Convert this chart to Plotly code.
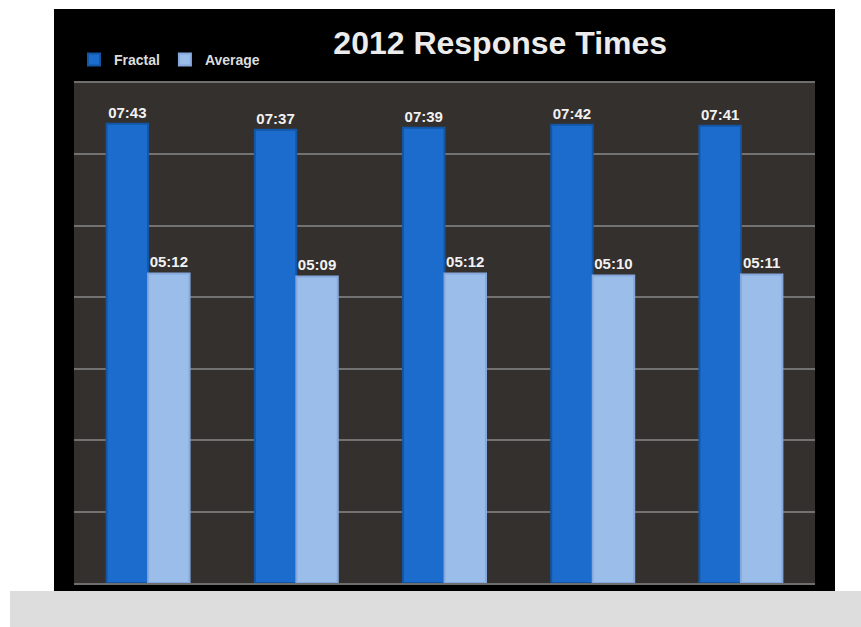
import plotly.graph_objects as go

categories = ["1", "2", "3", "4", "5"]
fractal_sec = [463, 457, 459, 462, 461]   # 07:43, 07:37, 07:39, 07:42, 07:41
average_sec = [312, 309, 312, 310, 311]   # 05:12, 05:09, 05:12, 05:10, 05:11
fractal_labels = ["07:43", "07:37", "07:39", "07:42", "07:41"]
average_labels = ["05:12", "05:09", "05:12", "05:10", "05:11"]
y_max = 504
y_step = 72

fig = go.Figure()
fig.add_trace(go.Bar(
    x=categories, y=fractal_sec, name="Fractal",
    text=fractal_labels, textposition="outside", cliponaxis=False,
    textfont=dict(color="#f2f2f2", size=15, family="Liberation Sans", weight="bold"),
    marker=dict(color="#1c6cce", line=dict(color="#1356a6", width=2)),
))
fig.add_trace(go.Bar(
    x=categories, y=average_sec, name="Average",
    text=average_labels, textposition="outside", cliponaxis=False,
    textfont=dict(color="#f2f2f2", size=15, family="Liberation Sans", weight="bold"),
    marker=dict(color="#9bbde9", line=dict(color="#86a8dc", width=2)),
))

fig.update_layout(
    width=861, height=627,
    margin=dict(l=74, r=46, t=83, b=44),
    paper_bgcolor="white",
    plot_bgcolor="#33302e",
    barmode="group", bargap=0.44, bargroupgap=0,
    showlegend=True,
    legend=dict(orientation="h", x=0.0, xanchor="left", y=1.046, yanchor="middle",
                font=dict(color="#dddddd", size=14, family="Liberation Sans", weight="bold"),
                bgcolor="rgba(0,0,0,0)", itemwidth=30),
    title=dict(text="<b>2012 Response Times</b>", xref="container", x=0.581, xanchor="center",
               yref="container", y=0.931, yanchor="middle",
               font=dict(color="#ececec", size=32, family="Liberation Sans")),
    xaxis=dict(showticklabels=False, showgrid=False, showline=True, mirror=True,
               linecolor="#6e6e6e", linewidth=2, ticks=""),
    yaxis=dict(range=[0, y_max], dtick=y_step, showticklabels=False, showgrid=True,
               gridcolor="#727272", gridwidth=2, zeroline=False, showline=False, ticks=""),
    shapes=[
        dict(type="rect", xref="paper", yref="paper", x0=-0.027, x1=1.027, y0=-0.016, y1=1.148,
             fillcolor="black", line=dict(width=0), layer="below"),
        dict(type="rect", xref="paper", yref="paper", x0=0, x1=1, y0=0, y1=1,
             fillcolor="#33302e", line=dict(width=0), layer="below"),
        dict(type="rect", xref="paper", yref="paper", x0=-0.0864, x1=1.07, y0=-0.1, y1=-0.016,
             fillcolor="#dddddd", line=dict(width=0), layer="below"),
    ],
)

fig.write_html("out.html")
